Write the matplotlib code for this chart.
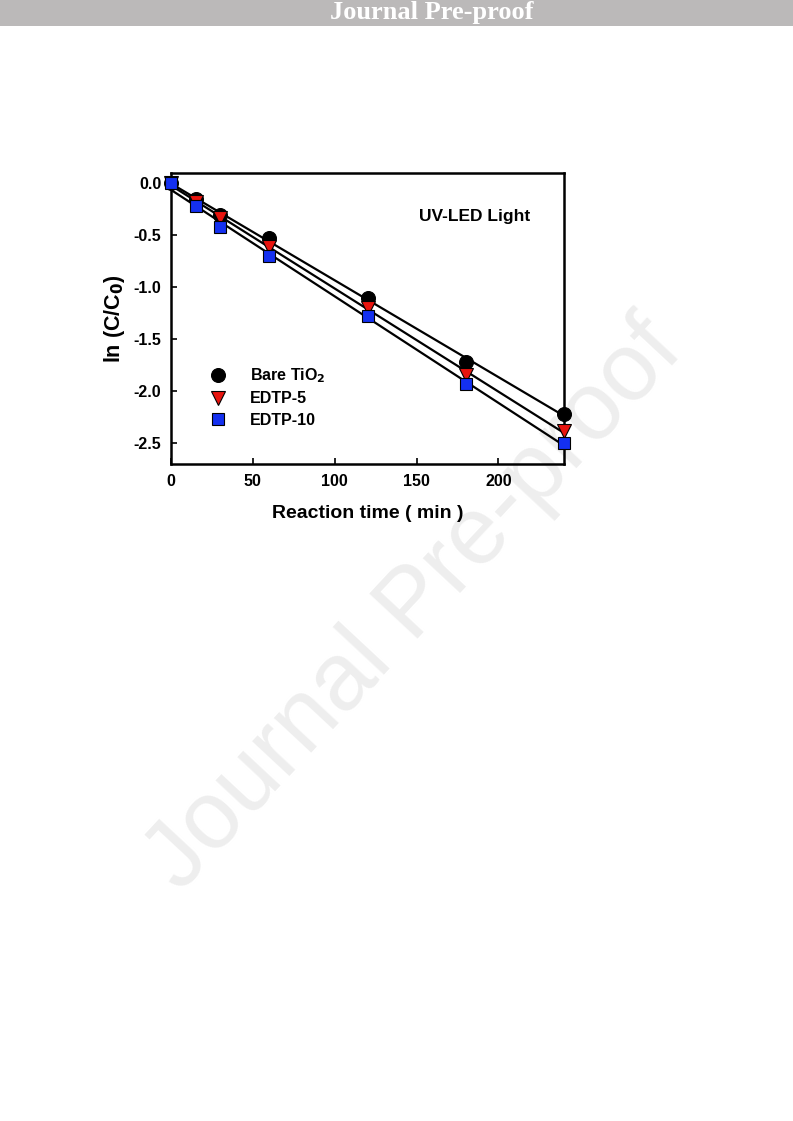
import numpy as np
import matplotlib
matplotlib.use("Agg")
import matplotlib.pyplot as plt

# reaction time (min) and ln(C/C0) for each catalyst
time_min = [0, 15, 30, 60, 120, 180, 240]
bare_tio2 = [0.0, -0.15, -0.30, -0.53, -1.10, -1.72, -2.22]
edtp_5 = [0.0, -0.18, -0.33, -0.61, -1.20, -1.84, -2.38]
edtp_10 = [0.0, -0.22, -0.42, -0.70, -1.28, -1.93, -2.50]

plt.rcParams['font.family'] = ['Liberation Sans', 'DejaVu Sans']
plt.rcParams['font.weight'] = 'bold'

fig = plt.figure(figsize=(7.93, 11.21), dpi=100)

# grey "Journal Pre-proof" header band
fig.patches.append(plt.Rectangle((0, 1 - 26 / 1121), 1, 26 / 1121, transform=fig.transFigure,
                                 facecolor='#bbb9b9', edgecolor='none'))
fig.text(0.545, 1 - 12 / 1121, "Journal Pre-proof", ha='center', va='center', color='white',
         fontsize=19, fontweight='bold', family='Liberation Serif')

# diagonal watermark, behind the chart
fig.text(0.523, 0.46, "Journal Pre-proof", ha='center', va='center', rotation=47,
         fontsize=69, fontweight='normal', color='#eeeeee', zorder=-1)

ax = fig.add_axes([0.2157, 0.5861, 0.4955, 0.2596])
ax.patch.set_alpha(0)

x = np.array(time_min)
series = [
    (bare_tio2, 'Bare TiO$_\\mathbf{2}$', dict(marker='o', color='black', markersize=10)),
    (edtp_5, 'EDTP-5', dict(marker='v', color='#e8140e', markersize=10)),
    (edtp_10, 'EDTP-10', dict(marker='s', color='#1430f0', markersize=9)),
]

xfit = np.array([0, 240])
for y, label, style in series:
    # linear fit line through the data
    k, b = np.polyfit(x, y, 1)
    ax.plot(xfit, k * xfit + b, color='black', lw=1.6, zorder=2)
    ax.plot(x, y, linestyle='none', marker=style['marker'], markersize=style['markersize'],
            markerfacecolor=style['color'], markeredgecolor='black', markeredgewidth=0.8,
            label=label, zorder=3, clip_on=False)

ax.set_xlim(0, 240)
ax.set_ylim(-2.7, 0.1)
ax.set_xticks([0, 50, 100, 150, 200])
ax.set_yticks([0.0, -0.5, -1.0, -1.5, -2.0, -2.5])
ax.set_yticklabels(['0.0', '-0.5', '-1.0', '-1.5', '-2.0', '-2.5'])
ax.tick_params(direction='in', length=4, width=1.2, labelsize=11.5, pad=7)
for s in ax.spines.values():
    s.set_linewidth(1.8)

ax.set_xlabel('Reaction time ( min )', fontsize=14, fontweight='bold', labelpad=12)
ax.set_ylabel('ln (C/C$_\\mathbf{0}$)', fontsize=15.5, fontweight='bold', labelpad=5)

ax.text(0.913, 0.85, 'UV-LED Light', transform=ax.transAxes, ha='right', va='center',
        fontsize=12.5, fontweight='bold')

ax.legend(loc='center left', bbox_to_anchor=(0.095, 0.23), frameon=False, fontsize=11.5,
          handletextpad=1.4, labelspacing=0.4, borderaxespad=0, borderpad=0,
          handlelength=1.2)

fig.savefig('out.png', dpi=100)
